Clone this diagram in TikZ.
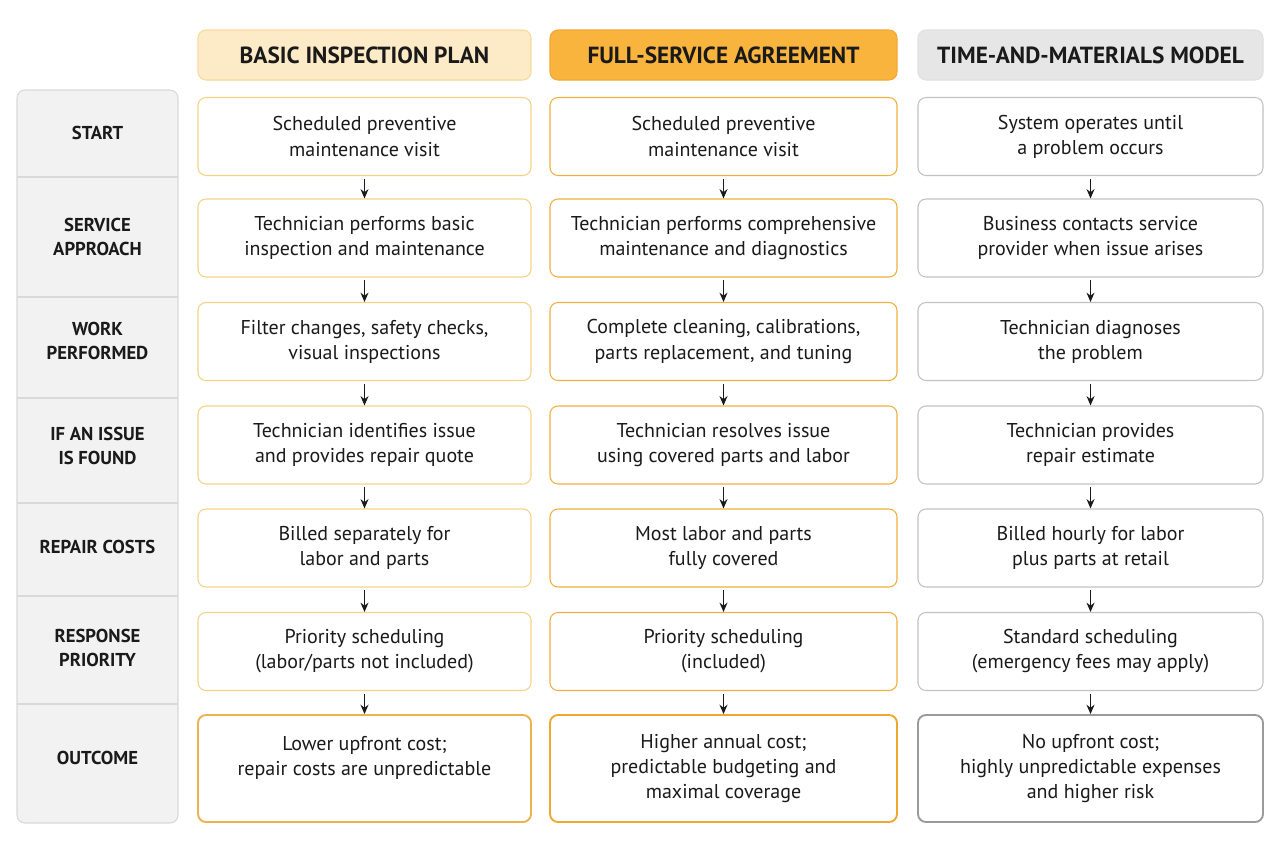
\documentclass[tikz,border=0pt]{standalone}
\usepackage{fontspec}
\setmainfont{PT Sans}
\usetikzlibrary{arrows.meta}

\definecolor{ink}{HTML}{1A1A1A}
\definecolor{hdrAfill}{HTML}{FCEBC6}
\definecolor{hdrAline}{HTML}{F6DA9E}
\definecolor{hdrBfill}{HTML}{F9B43E}
\definecolor{hdrBline}{HTML}{F0A832}
\definecolor{hdrCfill}{HTML}{E6E6E6}
\definecolor{hdrCline}{HTML}{E0E0E0}
\definecolor{lineA}{HTML}{F3D386}
\definecolor{lineB}{HTML}{F0B040}
\definecolor{lineC}{HTML}{C2C2C2}
\definecolor{endA}{HTML}{EBB24E}
\definecolor{endB}{HTML}{EFA82E}
\definecolor{endC}{HTML}{9A9A9A}
\definecolor{lblfill}{HTML}{F2F2F2}
\definecolor{lblline}{HTML}{D9D9D9}

\tikzset{
  cell/.style={draw, rounded corners=6pt, fill=white, align=center,
    font=\fontsize{15}{18.8}\selectfont, text=ink, line width=0.8pt,
    inner sep=0pt, minimum height=58.5pt},
  colA/.style={cell, draw=lineA, minimum width=249.75pt},
  colB/.style={cell, draw=lineB, minimum width=260.25pt},
  colC/.style={cell, draw=lineC, minimum width=258.75pt},
  endbox/.style={minimum height=80.25pt, line width=1.4pt},
  hdr/.style={draw, rounded corners=6pt, align=center, text=ink,
    font=\fontsize{17.5}{20}\selectfont\bfseries, minimum height=37.5pt,
    line width=0.8pt, inner sep=0pt},
  lbl/.style={align=center, text=ink, font=\fontsize{14}{18}\selectfont\bfseries},
  flow/.style={-{Stealth[length=7pt,width=6pt]}, line width=1.1pt, ink,
    shorten <=2pt},
}

\begin{document}
\begin{tikzpicture}[x=0.75pt,y=-0.75pt]
  \fill[white] (0,0) rectangle (1280,853);
  \useasboundingbox (0,0) rectangle (1280,853);

  % row labels
  \draw[fill=lblfill, draw=lblline, line width=0.8pt, rounded corners=6pt]
    (17,90) rectangle (178,823);
  \draw[lblline, line width=0.8pt] (17,177) -- (178,177);
  \draw[lblline, line width=0.8pt] (17,297) -- (178,297);
  \draw[lblline, line width=0.8pt] (17,398) -- (178,398);
  \draw[lblline, line width=0.8pt] (17,503) -- (178,503);
  \draw[lblline, line width=0.8pt] (17,596) -- (178,596);
  \draw[lblline, line width=0.8pt] (17,704) -- (178,704);
  \node[lbl] (l1) at (97.5,133) {START};
  \node[lbl] (l2) at (97.5,237) {SERVICE\\APPROACH};
  \node[lbl] (l3) at (97.5,341) {WORK\\PERFORMED};
  \node[lbl] (l4) at (97.5,446) {IF AN ISSUE\\IS FOUND};
  \node[lbl] (l5) at (97.5,547) {REPAIR COSTS};
  \node[lbl] (l6) at (97.5,648) {RESPONSE\\PRIORITY};
  \node[lbl] (l7) at (97.5,758) {OUTCOME};

  % column headers
  \node[hdr, fill=hdrAfill, draw=hdrAline, minimum width=249.75pt] (ha) at (364.5,55) {BASIC INSPECTION PLAN};
  \node[hdr, fill=hdrBfill, draw=hdrBline, minimum width=260.25pt] (hb) at (723.5,55) {FULL-SERVICE AGREEMENT};
  \node[hdr, fill=hdrCfill, draw=hdrCline, minimum width=258.75pt] (hc) at (1090.5,55) {TIME-AND-MATERIALS MODEL};

  % basic inspection plan
  \node[colA] (a1) at (364.5,136.5) {Scheduled preventive\\maintenance visit};
  \node[colA] (a2) at (364.5,238) {Technician performs basic\\inspection and maintenance};
  \node[colA] (a3) at (364.5,341.5) {Filter changes, safety checks,\\visual inspections};
  \node[colA] (a4) at (364.5,445) {Technician identifies issue\\and provides repair quote};
  \node[colA] (a5) at (364.5,548) {Billed separately for\\labor and parts};
  \node[colA] (a6) at (364.5,651.5) {Priority scheduling\\(labor/parts not included)};
  \node[colA, endbox, draw=endA] (a7) at (364.5,768.5) {Lower upfront cost;\\repair costs are unpredictable\\~};

  % full-service agreement
  \node[colB] (b1) at (723.5,136.5) {Scheduled preventive\\maintenance visit};
  \node[colB] (b2) at (723.5,238) {Technician performs comprehensive\\maintenance and diagnostics};
  \node[colB] (b3) at (723.5,341.5) {Complete cleaning, calibrations,\\parts replacement, and tuning};
  \node[colB] (b4) at (723.5,445) {Technician resolves issue\\using covered parts and labor};
  \node[colB] (b5) at (723.5,548) {Most labor and parts\\fully covered};
  \node[colB] (b6) at (723.5,651.5) {Priority scheduling\\(included)};
  \node[colB, endbox, draw=endB] (b7) at (723.5,768.5) {Higher annual cost;\\predictable budgeting and\\maximal coverage};

  % time-and-materials model
  \node[colC] (c1) at (1090.5,136.5) {System operates until\\a problem occurs};
  \node[colC] (c2) at (1090.5,238) {Business contacts service\\provider when issue arises};
  \node[colC] (c3) at (1090.5,341.5) {Technician diagnoses\\the problem};
  \node[colC] (c4) at (1090.5,445) {Technician provides\\repair estimate};
  \node[colC] (c5) at (1090.5,548) {Billed hourly for labor\\plus parts at retail};
  \node[colC] (c6) at (1090.5,651.5) {Standard scheduling\\(emergency fees may apply)};
  \node[colC, endbox, draw=endC] (c7) at (1090.5,768.5) {No upfront cost;\\highly unpredictable expenses\\and higher risk};

  % arrows
  \draw[flow] (a1) -- (a2);
  \draw[flow] (a2) -- (a3);
  \draw[flow] (a3) -- (a4);
  \draw[flow] (a4) -- (a5);
  \draw[flow] (a5) -- (a6);
  \draw[flow] (a6) -- (a7);
  \draw[flow] (b1) -- (b2);
  \draw[flow] (b2) -- (b3);
  \draw[flow] (b3) -- (b4);
  \draw[flow] (b4) -- (b5);
  \draw[flow] (b5) -- (b6);
  \draw[flow] (b6) -- (b7);
  \draw[flow] (c1) -- (c2);
  \draw[flow] (c2) -- (c3);
  \draw[flow] (c3) -- (c4);
  \draw[flow] (c4) -- (c5);
  \draw[flow] (c5) -- (c6);
  \draw[flow] (c6) -- (c7);
\end{tikzpicture}
\end{document}
